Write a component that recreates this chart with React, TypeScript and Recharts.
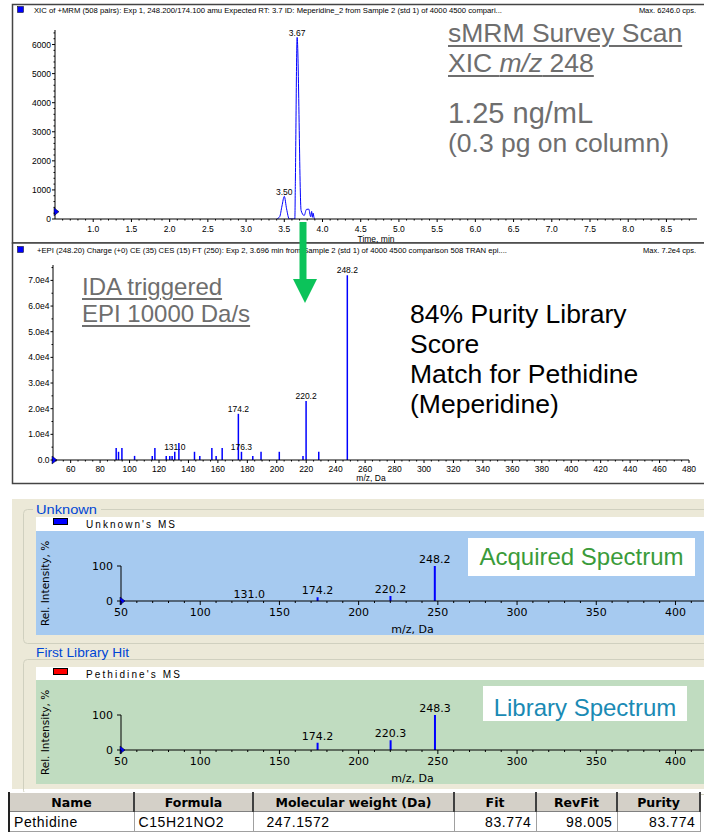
import React from "react";
import {
  LineChart,
  Line,
  BarChart,
  Bar,
  XAxis,
  YAxis,
  LabelList,
  ReferenceDot,
} from "recharts";

// XIC of +MRM 248.2/174.1 (top panel)
const xicTime = [3.4, 3.44, 3.47, 3.5, 3.53, 3.565, 3.62, 3.638, 3.645, 3.668, 3.72, 3.76, 3.79, 3.82, 3.845, 3.858, 3.868, 3.878, 3.888, 3.9];
const xicIntensity = [0, 80, 450, 780, 350, 0, 0, 0, 1300, 6246, 290, 120, 330, 340, 80, 260, 60, 200, 60, 0];
const xicPeakLabels = [3.5, 3.668];
const xicTimeTicks = [1.0, 1.5, 2.0, 2.5, 3.0, 3.5, 4.0, 4.5, 5.0, 5.5, 6.0, 6.5, 7.0, 7.5, 8.0, 8.5];
const xicIntensityTicks = [0, 1000, 2000, 3000, 4000, 5000, 6000];

// EPI spectrum of 248.2 (middle panel)
const epiMz = [91.2, 92.8, 95.1, 103.7, 115.7, 117.5, 125.2, 127.6, 129.2, 131.0, 133.8, 144.4, 148.0, 156.2, 159.1, 163.2, 174.2, 176.3, 184.0, 189.6, 202.0, 218.1, 220.2, 228.8, 248.2];
const epiIntensity = [4700, 3200, 4700, 1600, 1600, 4700, 1600, 1600, 1600, 3200, 6600, 3200, 1600, 4700, 1600, 4700, 18000, 3200, 1600, 3200, 3200, 1600, 23000, 3200, 72000];
const epiPeakLabels = [131.0, 174.2, 176.3, 220.2, 248.2];
const epiMzTicks = [60, 80, 100, 120, 140, 160, 180, 200, 220, 240, 260, 280, 300, 320, 340, 360, 380, 400, 420, 440, 460, 480];
const epiIntensityTicks = [0, 10000, 20000, 30000, 40000, 50000, 60000, 70000];

// library search panels
const unknownMz = [131.0, 174.2, 220.2, 248.2];
const unknownRel = [1, 11, 14, 100];
const libraryMz = [174.2, 220.3, 248.3];
const libraryRel = [21, 28, 100];
const searchMzTicks = [50, 100, 150, 200, 250, 300, 350, 400];
const relTicks = [0, 100];

// hit list
const tableHead = ["Name", "Formula", "Molecular weight (Da)", "Fit", "RevFit", "Purity"];
const tableRow = ["Pethidine", "C15H21NO2", "  247.1572", "83.774", "98.005", "83.774"];
const colWidths = [125, 119, 201, 82, 81, 83];
const colAlign: ("left" | "right")[] = ["left", "left", "left", "right", "right", "right"];

const FONT = "'Liberation Sans', Arial, sans-serif";
const WIDE = "'DejaVu Sans', Verdana, sans-serif";
const BLUE = "#0000ff";

const steps = (a: number, b: number, s: number) =>
  Array.from({ length: Math.round((b - a) / s) + 1 }, (_, i) => +(a + i * s).toFixed(4));

const inList = (list: number[]) => (v: number) => list.some((t) => Math.abs(t - v) < 1e-6);

type TickOpts = {
  side: "bottom" | "left";
  isMajor: (v: number) => boolean;
  fmt: (v: number) => string;
  fontSize: number;
  font?: string;
  majorLen: number;
  minorLen: number;
  gap: number;
};

function axisTick(o: TickOpts) {
  const font = o.font || FONT;
  return (props: any) => {
    const { x, y, payload } = props;
    const v = payload.value as number;
    const major = o.isMajor(v);
    const len = major ? o.majorLen : o.minorLen;
    if (o.side === "bottom") {
      return (
        <g>
          <line x1={x} x2={x} y1={y} y2={y + len} stroke="#000" />
          {major && (
            <text x={x} y={y + len + o.gap + o.fontSize * 0.72} textAnchor="middle" fontSize={o.fontSize} fontFamily={font} fill="#000">
              {o.fmt(v)}
            </text>
          )}
        </g>
      );
    }
    return (
      <g>
        <line x1={x - len} x2={x} y1={y} y2={y} stroke="#000" />
        {major && (
          <text x={x - len - o.gap} y={y + o.fontSize * 0.36} textAnchor="end" fontSize={o.fontSize} fontFamily={font} fill="#000">
            {o.fmt(v)}
          </text>
        )}
      </g>
    );
  };
}

const triangle = (props: any) => {
  const { cx, cy } = props;
  return <path d={`M${cx - 1},${cy - 4} L${cx + 4},${cy} L${cx - 1},${cy + 4} Z`} fill={BLUE} stroke="#000" strokeWidth={0.5} />;
};

function XicChart() {
  const data = xicTime.map((t, i) => ({ t, v: xicIntensity[i] }));
  return (
    <LineChart width={704} height={245} data={data} margin={{ top: 30, right: 7, bottom: 2, left: 10 }}>
      <XAxis
        type="number"
        dataKey="t"
        domain={[0.5, 8.9]}
        ticks={steps(0.6, 8.8, 0.1)}
        interval={0}
        allowDataOverflow
        height={24}
        tickSize={0}
        tickMargin={0}
        tickLine={false}
        axisLine={{ stroke: "#000" }}
        tick={axisTick({ side: "bottom", isMajor: inList(xicTimeTicks), fmt: (v) => v.toFixed(1), fontSize: 8.5, majorLen: 3, minorLen: 1.5, gap: 4 })}
        label={{ value: "Time, min", position: "insideBottom", offset: 1, fontSize: 8.5, fontFamily: FONT, fill: "#000" }}
      />
      <YAxis
        type="number"
        domain={[0, 6500]}
        ticks={steps(0, 6400, 200)}
        interval={0}
        allowDataOverflow
        width={45}
        tickSize={0}
        tickMargin={0}
        tickLine={false}
        axisLine={{ stroke: "#000" }}
        tick={axisTick({ side: "left", isMajor: inList(xicIntensityTicks), fmt: (v) => String(v), fontSize: 8.5, majorLen: 3, minorLen: 1.5, gap: 1 })}
      />
      <ReferenceDot x={0.5} y={250} r={0} shape={triangle} ifOverflow="visible" />
      <Line type="monotone" dataKey="v" stroke={BLUE} strokeWidth={1} dot={false} isAnimationActive={false}>
        <LabelList
          dataKey="t"
          content={(p: any) =>
            inList(xicPeakLabels)(p.value) ? (
              <text x={p.x} y={p.y - 1.5} textAnchor="middle" fontSize={8.5} fontFamily={FONT} fill="#000">
                {Number(p.value).toFixed(2)}
              </text>
            ) : null
          }
        />
      </Line>
    </LineChart>
  );
}

function EpiChart() {
  const data = epiMz.map((mz, i) => ({ mz, v: epiIntensity[i] }));
  const fmt = (v: number) => (v === 0 ? "0.0" : (v / 10000).toFixed(1) + "e4");
  return (
    <BarChart width={704} height={242} data={data} margin={{ top: 22, right: 15, bottom: 5, left: 10 }}>
      <XAxis
        type="number"
        dataKey="mz"
        domain={[48, 480]}
        ticks={steps(50, 480, 5)}
        interval={0}
        allowDataOverflow
        height={20}
        tickSize={0}
        tickMargin={0}
        tickLine={false}
        axisLine={{ stroke: "#000" }}
        tick={axisTick({ side: "bottom", isMajor: inList(epiMzTicks), fmt: (v) => String(v), fontSize: 8.5, majorLen: 3, minorLen: 1.5, gap: 3 })}
        label={{ value: "m/z, Da", position: "insideBottom", offset: -1, fontSize: 8.5, fontFamily: FONT, fill: "#000" }}
      />
      <YAxis
        type="number"
        domain={[0, 76000]}
        ticks={steps(0, 75000, 5000)}
        interval={0}
        allowDataOverflow
        width={43}
        tickSize={0}
        tickMargin={0}
        tickLine={false}
        axisLine={{ stroke: "#000" }}
        tick={axisTick({ side: "left", isMajor: inList(epiIntensityTicks), fmt, fontSize: 8.5, majorLen: 2.5, minorLen: 1.5, gap: 1 })}
      />
      <ReferenceDot x={48} y={0} r={0} shape={triangle} ifOverflow="visible" />
      <Bar dataKey="v" fill={BLUE} barSize={1.5} isAnimationActive={false}>
        <LabelList
          dataKey="mz"
          content={(p: any) =>
            inList(epiPeakLabels)(p.value) ? (
              <text x={p.x + p.width / 2} y={p.y - 2} textAnchor="middle" fontSize={8.5} fontFamily={FONT} fill="#000">
                {Number(p.value).toFixed(1)}
              </text>
            ) : null
          }
        />
      </Bar>
    </BarChart>
  );
}

function SearchChart({ mz, rel }: { mz: number[]; rel: number[] }) {
  const data = mz.map((m, i) => ({ mz: m, v: rel[i] }));
  return (
    <BarChart width={668} height={104} data={data} margin={{ top: 35, right: 0, bottom: 2, left: 0 }}>
      <XAxis
        type="number"
        dataKey="mz"
        domain={[50, 418]}
        ticks={steps(50, 410, 10)}
        interval={0}
        allowDataOverflow
        height={32}
        tickSize={0}
        tickMargin={0}
        tickLine={false}
        axisLine={{ stroke: "#000" }}
        tick={axisTick({ side: "bottom", isMajor: inList(searchMzTicks), fmt: (v) => String(v), fontSize: 11, font: WIDE, majorLen: 4, minorLen: 2, gap: 3 })}
        label={{ value: "m/z, Da", position: "insideBottom", offset: 0, fontSize: 11, fontFamily: WIDE, fill: "#000" }}
      />
      <YAxis
        type="number"
        domain={[0, 100]}
        ticks={relTicks}
        interval={0}
        width={85}
        tickSize={0}
        tickMargin={0}
        tickLine={false}
        axisLine={{ stroke: "#000" }}
        tick={axisTick({ side: "left", isMajor: () => true, fmt: (v) => String(v), fontSize: 11, font: WIDE, majorLen: 4, minorLen: 2, gap: 4 })}
        label={{
          value: "Rel. Intensity, %",
          angle: -90,
          position: "insideLeft",
          offset: 9,
          fontSize: 10.5,
          fontFamily: WIDE,
          fill: "#000",
          style: { textAnchor: "middle" },
        }}
      />
      <ReferenceDot x={50} y={0} r={0} shape={triangle} ifOverflow="visible" />
      <Bar dataKey="v" fill={BLUE} barSize={2} isAnimationActive={false}>
        <LabelList
          dataKey="mz"
          content={(p: any) => (
            <text x={p.x + p.width / 2} y={p.y - 3} textAnchor="middle" fontSize={11} fontFamily={WIDE} fill="#000">
              {Number(p.value).toFixed(1)}
            </text>
          )}
        />
      </Bar>
    </BarChart>
  );
}

const abs = (left: number, top: number): React.CSSProperties => ({ position: "absolute", left, top });

const note = (fs: number, color: string, underline: boolean): React.CSSProperties => ({
  fontFamily: FONT,
  fontSize: fs,
  lineHeight: 1,
  color,
  whiteSpace: "nowrap",
  textDecoration: underline ? "underline" : "none",
  textDecorationThickness: 2,
  textUnderlineOffset: 3,
});

export default function App() {
  const gray = "#6e6e6e";
  return (
    <div style={{ position: "absolute", left: 0, top: 0, width: 704, height: 834, background: "#fff", overflow: "hidden" }}>
      <svg width={704} height={834} style={abs(0, 0)}>
        <rect x={12.5} y={4.5} width={700} height={238.5} fill="#fff" stroke="#444" strokeWidth={1.5} />
        <rect x={12.5} y={243} width={700} height={240.5} fill="#fff" stroke="#444" strokeWidth={1.5} />
        <rect x={17.5} y={6.5} width={6} height={6} fill={BLUE} stroke="#000" strokeWidth={0.5} />
        <text x={34} y={13} fontSize={7.5} fontFamily={FONT} textLength={468} lengthAdjust="spacingAndGlyphs">
          XIC of +MRM (508 pairs): Exp 1, 248.200/174.100 amu Expected RT: 3.7 ID: Meperidine_2 from Sample 2 (std 1) of 4000 4500 compari...
        </text>
        <text x={696} y={13} fontSize={7.5} fontFamily={FONT} textAnchor="end">Max. 6246.0 cps.</text>
        <rect x={17.5} y={246.5} width={6} height={6} fill={BLUE} stroke="#000" strokeWidth={0.5} />
        <text x={37} y={253} fontSize={7.5} fontFamily={FONT} textLength={470} lengthAdjust="spacingAndGlyphs">
          +EPI (248.20) Charge (+0) CE (35) CES (15) FT (250): Exp 2, 3.696 min from Sample 2 (std 1) of 4000 4500 comparison 508 TRAN epi....
        </text>
        <text x={696} y={253} fontSize={7.5} fontFamily={FONT} textAnchor="end">Max. 7.2e4 cps.</text>

        <rect x={12} y={499} width={692} height={290} fill="#ECE9D8" />
        <rect x={23.5} y={509.5} width={700} height={134} rx={4} fill="none" stroke="#D0D0BF" />
        <rect x={23.5} y={659.5} width={700} height={135} rx={4} fill="none" stroke="#D0D0BF" />
        <rect x={33} y={503} width={68} height={12} fill="#ECE9D8" />
        <rect x={33} y={646} width={100} height={12} fill="#ECE9D8" />
        <text x={36} y={513.5} fontSize={13} fontFamily={FONT} fill="#0046D5" textLength={61} lengthAdjust="spacingAndGlyphs">Unknown</text>
        <text x={36} y={656.5} fontSize={13} fontFamily={FONT} fill="#0046D5" textLength={93} lengthAdjust="spacingAndGlyphs">First Library Hit</text>
        <rect x={36} y={517} width={668} height={14} fill="#fff" />
        <rect x={36} y={667} width={668} height={13} fill="#fff" />
        <rect x={53.5} y={518.5} width={14} height={6} fill={BLUE} stroke="#000" />
        <rect x={53.5} y={668.5} width={14} height={6} fill="#ff0000" stroke="#000" />
        <text x={86} y={527.5} fontSize={10} fontFamily={FONT} textLength={89} lengthAdjust="spacing">Unknown's MS</text>
        <text x={86} y={677.5} fontSize={10} fontFamily={FONT} textLength={94} lengthAdjust="spacing">Pethidine's MS</text>
        <rect x={36} y={531} width={668} height={104} fill="#A6CAF0" />
        <rect x={36} y={680} width={668} height={104} fill="#C0DCC0" />
      </svg>

      <div style={abs(0, 0)}>
        <XicChart />
      </div>
      <div style={abs(0, 243)}>
        <EpiChart />
      </div>
      <div style={abs(36, 531)}>
        <SearchChart mz={unknownMz} rel={unknownRel} />
      </div>
      <div style={abs(36, 680)}>
        <SearchChart mz={libraryMz} rel={libraryRel} />
      </div>

      <svg width={704} height={834} style={{ ...abs(0, 0), pointerEvents: "none" }}>
        <rect x={299.5} y={222} width={7} height={58} fill="#0cc35a" />
        <path d="M293,279 L317,279 L305,303 Z" fill="#0cc35a" />
      </svg>

      <div style={{ ...abs(448, 19.6), ...note(26.5, gray, true) }}>sMRM Survey Scan</div>
      <div style={{ ...abs(448, 49.6), ...note(26.5, gray, true) }}>
        XIC <i>m/z</i> 248
      </div>
      <div style={{ ...abs(448, 98.5), ...note(29, gray, false) }}>1.25 ng/mL</div>
      <div style={{ ...abs(448, 129.6), ...note(26.5, gray, false) }}>(0.3 pg on column)</div>
      <div style={{ ...abs(82, 274.7), ...note(24, gray, true) }}>IDA triggered</div>
      <div style={{ ...abs(82, 301.7), ...note(24, gray, true) }}>EPI 10000 Da/s</div>
      <div style={{ ...abs(410, 298.8), ...note(26.5, "#000", false), lineHeight: "30px" }}>
        84% Purity Library
        <br />
        Score
        <br />
        Match for Pethidine
        <br />
        (Meperidine)
      </div>

      <div style={{ ...abs(468, 538), width: 227, height: 38, background: "#fff", textAlign: "center", ...note(24, "#3A9B3A", false), lineHeight: "38px" }}>
        Acquired Spectrum
      </div>
      <div style={{ ...abs(483, 686), width: 204, height: 35, background: "#fff" }}>
        <div style={{ ...note(24, "#1A8AB4", false), textAlign: "center", marginTop: 10 }}>Library Spectrum</div>
      </div>

      <table
        style={{
          ...abs(8, 792),
          borderCollapse: "collapse",
          tableLayout: "fixed",
          borderLeft: "2px solid #222",
          fontFamily: FONT,
        }}
      >
        <colgroup>
          {colWidths.map((w, i) => (
            <col key={i} style={{ width: w }} />
          ))}
        </colgroup>
        <thead>
          <tr style={{ height: 19 }}>
            {tableHead.map((h, i) => (
              <th
                key={i}
                style={{
                  background: "#D4D0C8",
                  fontFamily: WIDE,
                  fontSize: 12.5,
                  fontWeight: "bold",
                  padding: 0,
                  borderTop: "1px solid #fff",
                  borderLeft: "1px solid #fff",
                  borderRight: "2px solid #404040",
                  borderBottom: "1px solid #808080",
                  textAlign: "center",
                  whiteSpace: "nowrap",
                  overflow: "hidden",
                }}
              >
                {h}
              </th>
            ))}
          </tr>
        </thead>
        <tbody>
          <tr style={{ height: 20 }}>
            {tableRow.map((c, i) => (
              <td
                key={i}
                style={{
                  background: "#fff",
                  fontSize: 14,
                  letterSpacing: 0.6,
                  padding: "0 4px",
                  border: "1px solid #a0a0a0",
                  textAlign: colAlign[i],
                  whiteSpace: "pre",
                  overflow: "hidden",
                }}
              >
                {c}
              </td>
            ))}
          </tr>
        </tbody>
      </table>
    </div>
  );
}
